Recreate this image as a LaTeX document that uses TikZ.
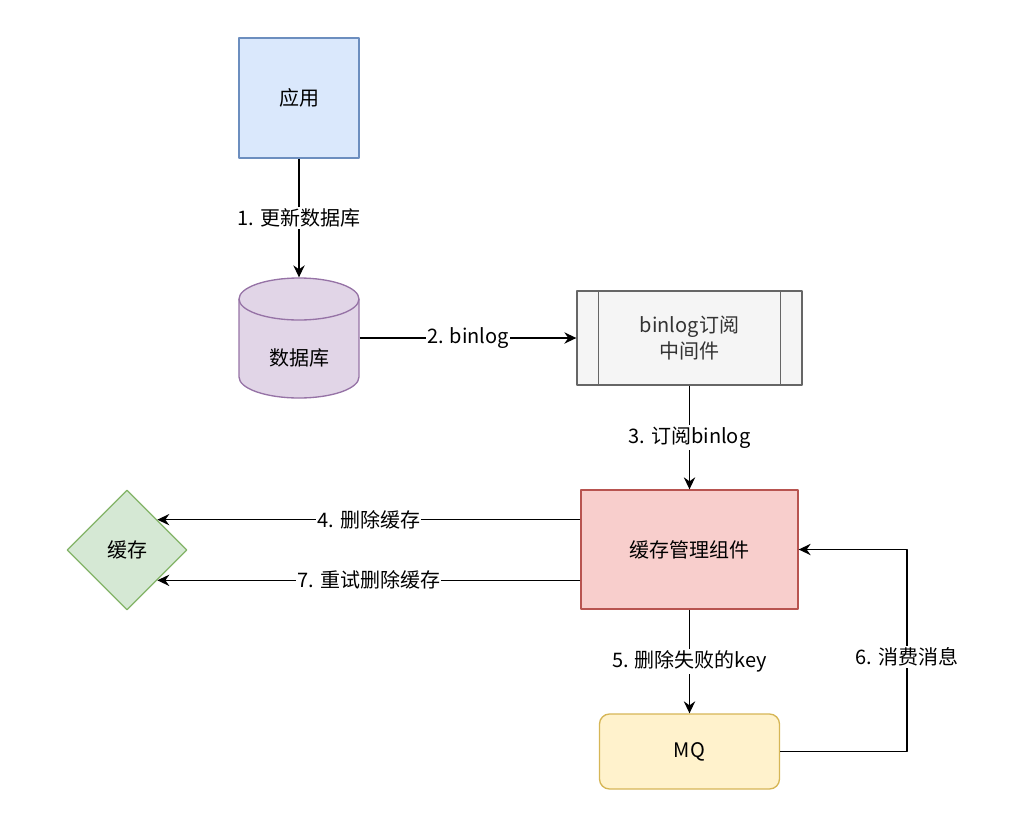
\documentclass[tikz,border=0pt]{standalone}
\usepackage{fontspec}
\setmainfont{Noto Sans CJK SC}
\usetikzlibrary{shapes.geometric,arrows.meta}
\definecolor{appfill}{HTML}{DAE8FC}
\definecolor{appdraw}{HTML}{6C8EBF}
\definecolor{dbfill}{HTML}{E1D5E7}
\definecolor{dbdraw}{HTML}{9673A6}
\definecolor{midfill}{HTML}{F5F5F5}
\definecolor{middraw}{HTML}{666666}
\definecolor{midtext}{HTML}{333333}
\definecolor{mgrfill}{HTML}{F8CECC}
\definecolor{mgrdraw}{HTML}{B85450}
\definecolor{cachefill}{HTML}{D5E8D4}
\definecolor{cachedraw}{HTML}{82B366}
\definecolor{mqfill}{HTML}{FFF2CC}
\definecolor{mqdraw}{HTML}{D6B656}
\begin{document}
\begin{tikzpicture}[x=0.75pt, y=-0.75pt, line width=1pt, line join=round, >={Stealth[length=9pt, width=8.5pt, inset=3pt]}, font=\fontsize{15pt}{20pt}\selectfont,
	box/.style={draw, inner sep=0pt, align=center},
	lbl/.style={fill=white, inner sep=1pt}]
		\useasboundingbox (0,0) rectangle (1022,825);
		\node[box, fill=appfill, draw=appdraw, minimum width=90pt, minimum height=90pt] (app) at (299,98) {应用};
		% database cylinder
		\node[inner sep=0pt, minimum width=90pt, minimum height=90pt] (db) at (299,338) {};
		\draw[fill=dbfill, draw=dbdraw] (239,299) -- (239,377) arc[start angle=180, end angle=360, x radius=45pt, y radius=15.75pt] -- (359,299) arc[start angle=0, end angle=180, x radius=45pt, y radius=15.75pt] -- cycle;
		\draw[dbdraw] (239,299) arc[start angle=180, end angle=360, x radius=45pt, y radius=15.75pt];
		\node (dbtext) at ([yshift=-15pt]db.center) {数据库};
		% binlog middleware
		\node[box, fill=midfill, draw=middraw, text=midtext, minimum width=168.75pt, minimum height=70.5pt] (mid) at (689.5,338) {binlog订阅\\中间件};
		\draw[middraw] ([xshift=16.5pt]mid.north west) -- ([xshift=16.5pt]mid.south west) ([xshift=-16.5pt]mid.north east) -- ([xshift=-16.5pt]mid.south east);
		\node[box, fill=mgrfill, draw=mgrdraw, minimum width=162.75pt, minimum height=89.25pt] (mgr) at (689.5,549.5) {缓存管理组件};
		\node[box, diamond, fill=cachefill, draw=cachedraw, minimum width=90pt, minimum height=90pt] (cache) at (127,550) {缓存};
		\node[box, rounded corners=7.5pt, fill=mqfill, draw=mqdraw, minimum width=135pt, minimum height=56.25pt] (mq) at (689.5,751.5) {MQ};
		% connectors
		\draw[->] (app) -- node[lbl] (l1) {1. 更新数据库} (db);
		\draw[->] (db) -- node[lbl] (l2) {2. binlog} (mid);
		\draw[->] (mid) -- node[lbl] (l3) {3. 订阅binlog} (mgr);
		\draw[->] (mgr.west |- cache.north east) -- node[lbl] (l4) {4. 删除缓存} (cache.north east);
		\draw[->] (mgr.west |- cache.south east) -- node[lbl] (l7) {7. 重试删除缓存} (cache.south east);
		\draw[->] (mgr) -- node[lbl] (l5) {5. 删除失败的key} (mq);
		\coordinate (bend) at (907,657);
		\draw[->] (mq.east) -| (bend) |- (mgr.east);
		\node[lbl] (l6) at (bend) {6. 消费消息};
\end{tikzpicture}
\end{document}
